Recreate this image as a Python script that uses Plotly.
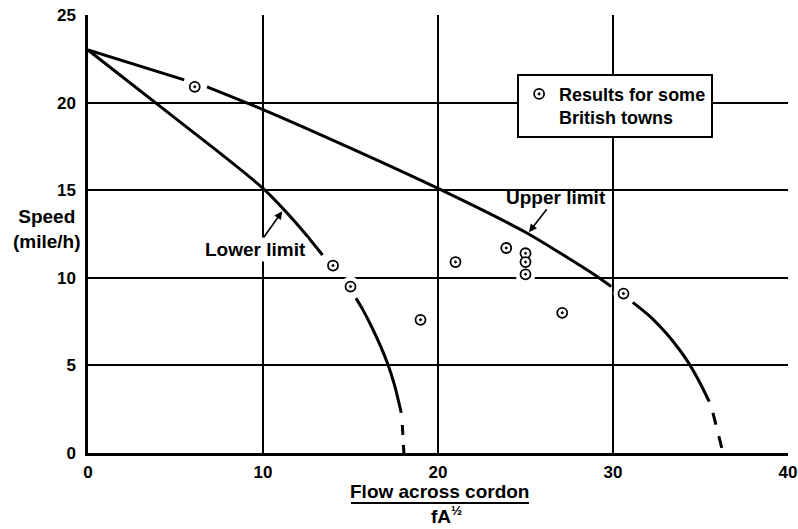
import plotly.graph_objects as go

# ---- data ----
town_flow = [6.1, 14.0, 15.0, 19.0, 21.0, 23.9, 25.0, 25.0, 25.0, 27.1, 30.6]
town_speed = [20.9, 10.7, 9.5, 7.6, 10.9, 11.7, 11.4, 10.9, 10.2, 8.0, 9.1]

# upper limit curve (None = gap around plotted points)
upper_flow = [0, 5.5, None, 6.8, 10, 15, 20, 25, 27, 28.9, 29.9, None,
              31.13, 32.11, 33.07, 33.83, 34.30, 34.97, 35.50]
upper_speed = [23, 21.3, None, 20.9, 19.6, 17.4, 15.1, 12.6, 11.4, 10.2, 9.5, None,
               8.6, 7.8, 6.8, 5.85, 5.17, 4.0, 2.93]
upper_tail_flow = [35.71, 36.29]
upper_tail_speed = [2.29, 0]

# lower limit curve
lower_flow = [0, 5, 10, 12, 13.4, None, 15.31, 15.71, 16.20, 16.73, 17.16, 17.54, 17.84, 17.9]
lower_speed = [23, 19.1, 15.1, 13.0, 11.3, None, 8.84, 8.17, 7.22, 6.07, 4.99, 3.79, 2.55, 2.29]
lower_tail_flow = [17.96, 18.05]
lower_tail_speed = [1.6, 0]

x_ticks = [0, 10, 20, 30, 40]
y_ticks = [0, 5, 10, 15, 20, 25]

FONT = "Liberation Sans"
FS = 19
TFS = 17

fig = go.Figure()

# white halos that break the grid lines around the points
fig.add_trace(go.Scatter(x=town_flow, y=town_speed, mode="markers",
                         marker=dict(size=20, color="white", line=dict(width=0)),
                         showlegend=False, hoverinfo="skip"))

for xs, ys, dash in [(upper_flow, upper_speed, "solid"),
                     (upper_tail_flow, upper_tail_speed, "12px,12px"),
                     (lower_flow, lower_speed, "solid"),
                     (lower_tail_flow, lower_tail_speed, "10px,10px")]:
    fig.add_trace(go.Scatter(x=xs, y=ys, mode="lines",
                             line=dict(color="black", width=3, shape="spline",
                                       smoothing=0.8, dash=dash),
                             connectgaps=False, showlegend=False, hoverinfo="skip"))

fig.add_trace(go.Scatter(x=town_flow, y=town_speed, mode="markers",
                         name="Results for some<br>British towns",
                         marker=dict(symbol="circle-dot", size=10, color="white",
                                     line=dict(color="black", width=1.8))))

axis_common = dict(showline=True, linecolor="black", linewidth=2.5,
                   showgrid=True, gridcolor="black", gridwidth=1.5,
                   zeroline=False, ticks="", mirror=False, automargin=False,
                   ticklabeloverflow="allow",
                   tickfont=dict(family=FONT, size=TFS, color="black", weight="bold"))

fig.update_xaxes(range=[0, 40], tickvals=x_ticks, ticklabelstandoff=2, **axis_common)
fig.update_yaxes(range=[0, 25], tickvals=y_ticks, ticklabelstandoff=6, **axis_common)

fig.update_layout(
    width=798, height=529,
    margin=dict(l=88, r=10, t=15, b=76),
    paper_bgcolor="white", plot_bgcolor="white",
    font=dict(family=FONT, size=FS, color="black"),
    showlegend=True,
    legend=dict(x=0.613, y=0.866, xanchor="left", yanchor="top",
                bgcolor="white", bordercolor="black", borderwidth=2,
                valign="top", tracegroupgap=0,
                font=dict(family=FONT, size=18, color="black", weight="bold")),
    annotations=[
        dict(text="<b>Speed</b><br><b>(mile/h)</b>", xref="paper", yref="y",
             x=-0.058, y=12.8, xanchor="center", yanchor="middle",
             showarrow=False, font=dict(family=FONT, size=FS)),
        dict(text="<b>Flow across cordon</b>", xref="x", yref="paper",
             x=20.1, y=-0.087, xanchor="center", yanchor="middle",
             showarrow=False, font=dict(family=FONT, size=FS)),
        dict(text="<b>fA<sup>½</sup></b>", xref="x", yref="paper",
             x=20.5, y=-0.142, xanchor="center", yanchor="middle",
             showarrow=False, font=dict(family=FONT, size=FS)),
        dict(text="<b>Upper limit</b>", xref="x", yref="y", x=25.2, y=12.6,
             ax=27, ay=-35, showarrow=True, arrowhead=2, arrowsize=1,
             arrowwidth=1.6, arrowcolor="black", font=dict(family=FONT, size=FS)),
        dict(text="<b>Lower limit</b>", xref="x", yref="y", x=11.1, y=13.8,
             ax=-27, ay=38, showarrow=True, arrowhead=2, arrowsize=1,
             arrowwidth=1.6, arrowcolor="black", bgcolor="white",
             font=dict(family=FONT, size=FS)),
    ],
    shapes=[
        dict(type="line", xref="x", yref="paper", x0=15.03, x1=25.2,
             y0=-0.114, y1=-0.114, line=dict(color="black", width=2)),
    ],
)

fig.write_html("out.html")
